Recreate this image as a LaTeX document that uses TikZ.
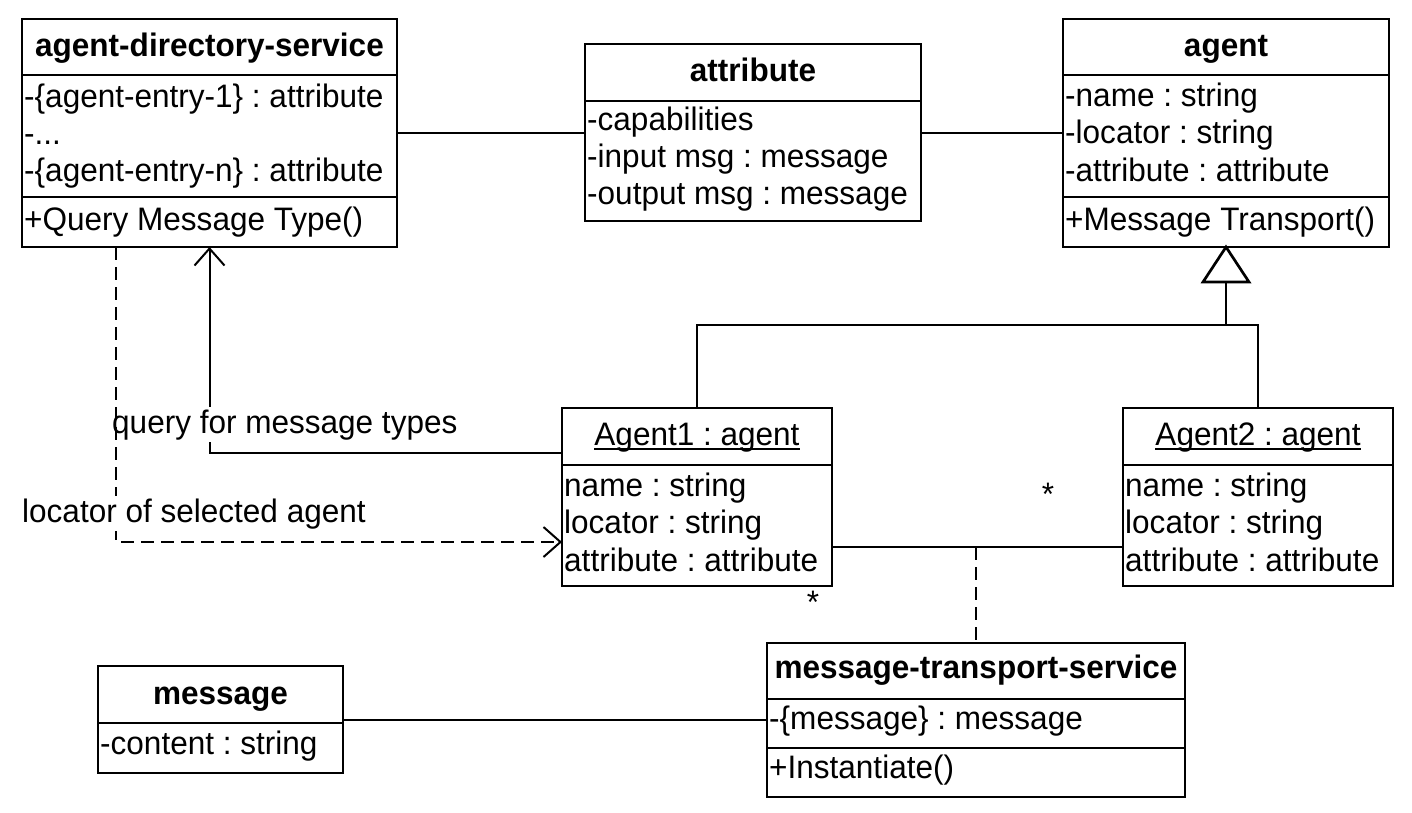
\documentclass[tikz,border=0pt]{standalone}
\usepackage{fontspec}
\setmainfont{Liberation Sans}[FakeStretch=0.97]
\usetikzlibrary{arrows.meta}
\begin{document}
\frenchspacing
\begin{tikzpicture}[x=1pt,y=-1pt,
  font=\fontsize{32.5}{37}\selectfont,
  umlbox/.style={draw, line width=2.7pt, inner sep=0pt, outer sep=0pt, anchor=north west},
  sepline/.style={line width=2.7pt},
  conn/.style={line width=2pt},
  txt/.style={inner sep=0pt, anchor=base west},
  ttl/.style={inner sep=0pt, anchor=base, font=\fontsize{32.5}{37}\selectfont\bfseries},
  otl/.style={inner sep=0pt, anchor=base},
  lbl/.style={inner sep=2pt, anchor=base west, fill=white},
  dep/.style={conn, dash pattern=on 13pt off 7pt},
  openarrow/.style={-{Straight Barb[length=17pt,width=30pt]}}
]
\useasboundingbox (0,0) rectangle (1412,812);

% agent-directory-service
\node[umlbox, minimum width=375pt, minimum height=228pt] (ads) at (22,19) {};
\draw[sepline] (22,75) -- (397,75);
\draw[sepline] (22,197) -- (397,197);
\node[ttl] (adst) at (209.5,56) {agent-directory-service};
\node[txt] (adsa1) at (24,107) {-\{agent-entry-1\} : attribute};
\node[txt] (adsa2) at (24,144) {-...};
\node[txt] (adsa3) at (24,181) {-\{agent-entry-n\} : attribute};
\node[txt] (adsm1) at (24,230) {+Query Message Type()};

% attribute
\node[umlbox, minimum width=336pt, minimum height=177pt] (attr) at (585,44) {};
\draw[sepline] (585,101) -- (921,101);
\node[ttl] (attrt) at (753,81) {attribute};
\node[txt] (attra1) at (587,130) {-capabilities};
\node[txt] (attra2) at (587,167) {-input msg : message};
\node[txt] (attra3) at (587,204) {-output msg : message};

% agent
\node[umlbox, minimum width=326pt, minimum height=228pt] (agent) at (1063,19) {};
\draw[sepline] (1063,75) -- (1389,75);
\draw[sepline] (1063,197) -- (1389,197);
\node[ttl] (agentt) at (1226,56) {agent};
\node[txt] (agenta1) at (1065,106) {-name : string};
\node[txt] (agenta2) at (1065,143) {-locator : string};
\node[txt] (agenta3) at (1065,181) {-attribute : attribute};
\node[txt] (agentm1) at (1065,230) {+Message Transport()};

% Agent1
\node[umlbox, minimum width=270pt, minimum height=178pt] (a1) at (562,408) {};
\draw[sepline] (562,465) -- (832,465);
\node[otl] (a1t) at (697,445) {Agent1 : agent};
\draw[line width=1.6pt] ([yshift=-4pt]a1t.base west) -- ([yshift=-4pt]a1t.base east);
\node[txt] (a1a1) at (564,496) {name : string};
\node[txt] (a1a2) at (564,533) {locator : string};
\node[txt] (a1a3) at (564,571) {attribute : attribute};

% Agent2
\node[umlbox, minimum width=270pt, minimum height=178pt] (a2) at (1123,408) {};
\draw[sepline] (1123,465) -- (1393,465);
\node[otl] (a2t) at (1258,445) {Agent2 : agent};
\draw[line width=1.6pt] ([yshift=-4pt]a2t.base west) -- ([yshift=-4pt]a2t.base east);
\node[txt] (a2a1) at (1125,496) {name : string};
\node[txt] (a2a2) at (1125,533) {locator : string};
\node[txt] (a2a3) at (1125,571) {attribute : attribute};

% message-transport-service
\node[umlbox, minimum width=418pt, minimum height=154pt] (mts) at (767,643) {};
\draw[sepline] (767,699) -- (1185,699);
\draw[sepline] (767,748) -- (1185,748);
\node[ttl] (mtst) at (976,678) {message-transport-service};
\node[txt] (mtsa1) at (769,729) {-\{message\} : message};
\node[txt] (mtsm1) at (769,778) {+Instantiate()};

% message
\node[umlbox, minimum width=245pt, minimum height=107pt] (msg) at (98,666) {};
\draw[sepline] (98,723) -- (343,723);
\node[ttl] (msgt) at (220.5,704) {message};
\node[txt] (msga1) at (100,754) {-content : string};

% associations
\draw[conn] (ads.east) -- (ads.east -| attr.west);
\draw[conn] (attr.east) -- (attr.east -| agent.west);
\draw[conn] (msg.east) -- (msg.east -| mts.west);

% generalization
\coordinate (tb) at (1226,282);
\coordinate (g1) at (697,325);
\coordinate (g2) at (1258,325);
\draw[conn] (tb) -- (tb |- g1);
\draw[conn] (a1.north) -- (g1) -- (g2) -- (a2.north);
\draw[sepline, fill=white, line join=miter] (agent.south) -- (1203,282) -- (1249,282) -- cycle;

% query
\coordinate (q) at (209.5,453);
\draw[conn, openarrow] (a1.west |- q) -- (q) -- (ads.south);
\node[lbl] (qlbl) at (110,433) {query for message types};

% locator
\coordinate (l) at (116,542);
\draw[dep, openarrow] (ads.south -| l) -- (l) -- (a1.west |- l);
\node[lbl] (llbl) at (20,522) {locator of selected agent};

% Agent1 -- Agent2 association with class link
\coordinate (as) at (976,547);
\draw[conn] (a1.east |- as) -- (a2.west |- as);
\draw[dep] (as) -- (mts.north);
\node[otl] (m1) at (1048,505) {*};
\node[otl] (m2) at (813,613) {*};
\end{tikzpicture}
\end{document}
